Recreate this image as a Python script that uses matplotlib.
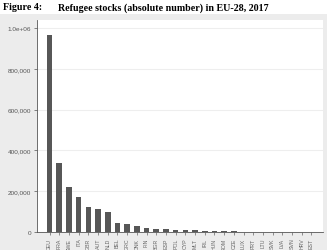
import matplotlib
matplotlib.use("Agg")
import matplotlib.pyplot as plt
from matplotlib.ticker import FuncFormatter

# refugee stocks by EU country, 2017
countries = ["DEU", "FRA", "SWE", "ITA", "GBR", "AUT", "NLD", "BEL", "GRC", "DNK",
             "FIN", "BGR", "ESP", "POL", "CYP", "MLT", "IRL", "HUN", "ROM", "CZE",
             "LUX", "PRT", "LTU", "SVK", "LVA", "SVN", "HRV", "EST"]
refugees = [967000, 338000, 219000, 170000, 121000, 113000, 100000, 42000, 37000, 31000,
            20000, 16000, 16000, 10000, 9000, 8000, 6000, 5000, 4000, 2500,
            2000, 1800, 1500, 1000, 700, 700, 600, 400]
y_ticks = [0, 200000, 400000, 600000, 800000, 1000000]

W, H = 327, 251
fig = plt.figure(figsize=(W / 100, H / 100), dpi=100)
fig.patch.set_facecolor("white")

# grey graph region under the title (a bare axes in the background)
bg = fig.add_axes([0, 0, 1, (H - 15) / H], zorder=-1)
bg.set_axis_off()
bg.add_patch(plt.Rectangle((0, 0), 1, 1, transform=bg.transAxes, color="#ececec"))

fig.text(3 / W, 1 - 8 / H, "Figure 4:", fontsize=7.2, fontweight="bold",
         family="Liberation Serif", va="center", ha="left")
fig.text(58 / W, 1 - 8 / H, "Refugee stocks (absolute number) in EU-28, 2017", fontsize=7.2,
         fontweight="bold", family="Liberation Serif", va="center", ha="left")

ax = fig.add_axes([37 / W, (H - 233) / H, (323 - 37) / W, (233 - 21) / H])
ax.set_facecolor("white")
ax.bar(range(len(countries)), refugees, width=0.58, color="#575757", zorder=3)

ax.set_xlim(-1.3, len(countries) - 1 + 1.2)
ax.set_ylim(0, 1000000 * (233 - 21) / 204)
ax.set_yticks(y_ticks)
ax.yaxis.set_major_formatter(FuncFormatter(
    lambda v, p: "1.0e+06" if v >= 1e6 else ("0" if v == 0 else f"{int(v):,}")))
ax.set_xticks(range(len(countries)))
ax.set_xticklabels(countries, rotation=90)
ax.grid(axis="y", color="#eeeeee", linewidth=0.8, zorder=0)

for s in ["top", "right"]:
    ax.spines[s].set_visible(False)
for s in ["left", "bottom"]:
    ax.spines[s].set_color("#555555")
    ax.spines[s].set_linewidth(0.6)
ax.tick_params(axis="y", labelsize=4.6, colors="#555555", length=2.5, width=0.5, pad=1.5)
ax.tick_params(axis="x", labelsize=3.8, colors="#666666", length=2.5, width=0.5, pad=1.5)
for lab in ax.get_xticklabels() + ax.get_yticklabels():
    lab.set_family("Liberation Sans")

fig.savefig("out.png", dpi=100)
